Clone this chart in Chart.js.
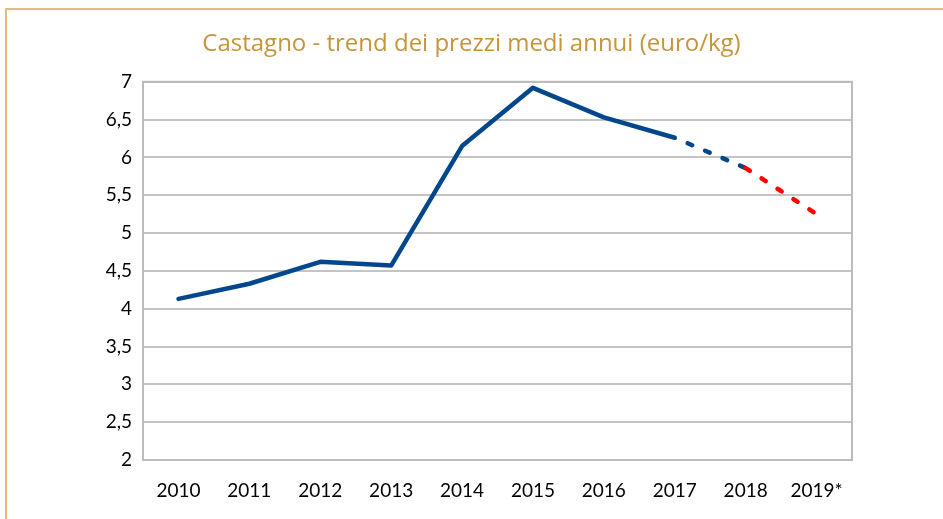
<!DOCTYPE html>
<html>
<head>
<meta charset="utf-8">
<script src="https://cdn.jsdelivr.net/npm/chart.js@4"></script>
<style>
  html, body { margin: 0; padding: 0; background: #fff; overflow: hidden; }
</style>
</head>
<body>
<canvas id="graph" width="943" height="519"></canvas>
<script>
const years = ["2010", "2011", "2012", "2013", "2014", "2015", "2016", "2017", "2018", "2019*"];
const prices = [4.13, 4.33, 4.62, 4.57, 6.15, 6.92, 6.53, 6.26, 5.86, 5.25];
const yTicks = [2, 2.5, 3, 3.5, 4, 4.5, 5, 5.5, 6, 6.5, 7];

const blue = "#02478b";
const red = "#ff0000";

// cornice dorata + bordo grigio dell'area del grafico
const frames = {
    id: "frames",
    beforeDraw(chart) {
        const ctx = chart.ctx;
        ctx.save();
        ctx.strokeStyle = "#dfbd82";
        ctx.lineWidth = 2;
        ctx.beginPath();
        ctx.moveTo(6, chart.height);
        ctx.lineTo(6, 9);
        ctx.lineTo(chart.width, 9);
        ctx.stroke();
        ctx.restore();
    },
    beforeDatasetsDraw(chart) {
        const a = chart.chartArea;
        const ctx = chart.ctx;
        ctx.save();
        ctx.strokeStyle = "#bcbcbc";
        ctx.lineWidth = 2;
        ctx.strokeRect(a.left, a.top, a.right - a.left, a.bottom - a.top);
        ctx.restore();
    }
};

const graph = document.getElementById('graph').getContext('2d');

let myChart = new Chart(graph, {
    type: "line",
    data: {
        labels: years,
        datasets: [
            {
                label: "Prezzo medio",
                data: prices,
                borderColor: blue,
                borderWidth: 4.5,
                borderCapStyle: "round",
                borderJoinStyle: "round",
                pointRadius: 0,
                tension: 0,
                segment: {
                    borderColor: ctx => ctx.p0DataIndex >= 8 ? red : blue,
                    borderDash: ctx => ctx.p0DataIndex >= 7 ? [5, 14] : undefined,
                    borderDashOffset: ctx => ctx.p0DataIndex === 7 ? 5 : 0,
                },
            },
        ],
    },
    options: {
        responsive: false,
        animation: false,
        layout: {
            padding: 0,
        },
        plugins: {
            legend: { display: false },
            tooltip: { enabled: false },
            title: {
                display: true,
                text: "Castagno - trend dei prezzi medi annui (euro/kg)",
                color: "#c8943a",
                font: { family: "Open Sans", size: 24, weight: "normal" },
                padding: { top: 30, bottom: 23 },
            },
        },
        scales: {
            x: {
                offset: true,
                grid: { display: false, drawTicks: false },
                border: { display: false },
                ticks: {
                    color: "#000",
                    font: { family: "Lato", size: 19 },
                    padding: 19,
                    maxRotation: 0,
                },
                afterFit: s => { s.height = 59; },
            },
            y: {
                min: 2,
                max: 7,
                afterBuildTicks: s => { s.ticks = yTicks.map(v => ({ value: v })); },
                grid: { color: "#c4c4c4", lineWidth: 2, drawTicks: false },
                border: { display: false },
                ticks: {
                    color: "#000",
                    font: { family: "Lato", size: 19 },
                    padding: 11,
                    callback: v => String(v).replace(".", ","),
                },
                afterFit: s => { s.width = 143; },
            },
            yRight: {
                position: "right",
                display: true,
                grid: { display: false, drawTicks: false },
                border: { display: false },
                ticks: { display: false },
                afterFit: s => { s.width = 91; },
            },
        },
    },
    plugins: [frames],
});
</script>
</body>
</html>
